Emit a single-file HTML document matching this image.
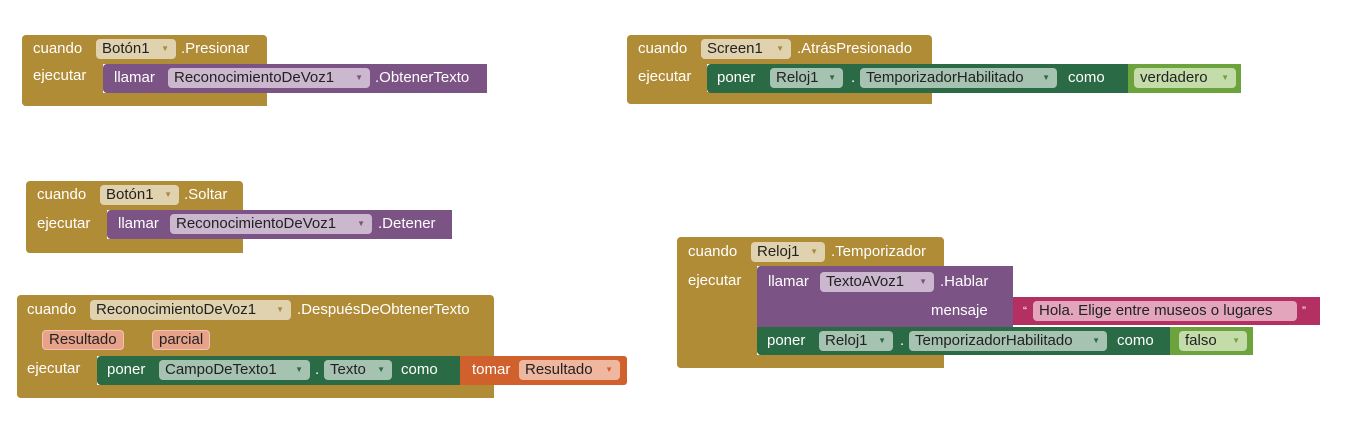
<!DOCTYPE html>
<html><head><meta charset="utf-8"><style>
body{margin:0;width:1350px;height:427px;background:#fff;position:relative;overflow:hidden;font-family:"Liberation Sans",sans-serif;font-size:15px}
.b{position:absolute}
.gold{background:#b18c37}
.pur{background:#7b5385}
.grn{background:#2a6a45}
.org{background:#d0612d}
.lime{background:#6da33c}
.pink{background:#b42f62}
.t{position:absolute;color:#fff;height:18px;line-height:18px;white-space:nowrap}
.f{position:absolute;height:20px;margin-top:-1px;line-height:20px;border-radius:4px;color:#222;padding-left:6px;box-sizing:border-box;white-space:nowrap}
.f i{position:absolute;right:7px;top:0;font-style:normal;font-size:8px;color:#888}
.fg{background:#e0d2ae}.fg i{color:#a88a3a}
.fp{background:#cbb8cf}.fp i{color:#7b5385}
.fn{background:#a6c2b1}.fn i{color:#2a6a45}
.fo{background:#efb79f}.fo i{color:#d0612d}
.fl{background:#c4dcaa}.fl i{color:#6da33c}
.fk{background:#e3a5bb}
.prm{position:absolute;height:18px;line-height:18px;background:#e9a28a;border:1px solid #f2c3b2;border-radius:4px;color:#222;padding:0 6px}
</style></head><body>

<!-- Block 1 -->
<div class="b gold" style="left:22px;top:35px;width:245px;height:29px;border-radius:4px 4px 0 0"></div>
<div class="b gold" style="left:22px;top:64px;width:81px;height:42px;border-radius:0 0 0 4px"></div>
<div class="b gold" style="left:22px;top:93px;width:245px;height:13px;border-radius:0 0 0 4px"></div>
<div class="t" style="left:33px;top:40px">cuando</div>
<div class="f fg" style="left:96px;top:40px;width:80px">Botón1<i>▼</i></div>
<div class="t" style="left:181px;top:40px">.Presionar</div>
<div class="t" style="left:33px;top:67px">ejecutar</div>
<div class="b pur" style="left:103px;top:64px;width:384px;height:29px;border-radius:4px 0 0 4px"></div>
<div class="t" style="left:114px;top:69px">llamar</div>
<div class="f fp" style="left:168px;top:69px;width:202px">ReconocimientoDeVoz1<i>▼</i></div>
<div class="t" style="left:375px;top:69px">.ObtenerTexto</div>

<!-- Block 2 -->
<div class="b gold" style="left:26px;top:181px;width:217px;height:29px;border-radius:4px 4px 0 0"></div>
<div class="b gold" style="left:26px;top:210px;width:81px;height:43px;border-radius:0 0 0 4px"></div>
<div class="b gold" style="left:26px;top:239px;width:217px;height:14px;border-radius:0 0 0 4px"></div>
<div class="t" style="left:37px;top:186px">cuando</div>
<div class="f fg" style="left:100px;top:186px;width:79px">Botón1<i>▼</i></div>
<div class="t" style="left:184px;top:186px">.Soltar</div>
<div class="t" style="left:37px;top:215px">ejecutar</div>
<div class="b pur" style="left:107px;top:210px;width:345px;height:29px;border-radius:4px 0 0 4px"></div>
<div class="t" style="left:118px;top:215px">llamar</div>
<div class="f fp" style="left:170px;top:215px;width:202px">ReconocimientoDeVoz1<i>▼</i></div>
<div class="t" style="left:378px;top:215px">.Detener</div>

<!-- Block 3 -->
<div class="b gold" style="left:17px;top:295px;width:477px;height:61px;border-radius:4px 4px 0 0"></div>
<div class="b gold" style="left:17px;top:356px;width:80px;height:42px;border-radius:0 0 0 4px"></div>
<div class="b gold" style="left:17px;top:385px;width:477px;height:13px;border-radius:0 0 0 4px"></div>
<div class="t" style="left:27px;top:301px">cuando</div>
<div class="f fg" style="left:90px;top:301px;width:201px">ReconocimientoDeVoz1<i>▼</i></div>
<div class="t" style="left:297px;top:301px">.DespuésDeObtenerTexto</div>
<div class="prm" style="left:42px;top:330px">Resultado</div>
<div class="prm" style="left:152px;top:330px">parcial</div>
<div class="t" style="left:27px;top:360px">ejecutar</div>
<div class="b grn" style="left:97px;top:356px;width:365px;height:29px;border-radius:4px 0 0 4px"></div>
<div class="t" style="left:107px;top:361px">poner</div>
<div class="f fn" style="left:159px;top:361px;width:151px">CampoDeTexto1<i>▼</i></div>
<div class="t" style="left:315px;top:361px">.</div>
<div class="f fn" style="left:324px;top:361px;width:68px">Texto<i>▼</i></div>
<div class="t" style="left:401px;top:361px">como</div>
<div class="b org" style="left:460px;top:356px;width:167px;height:29px;border-radius:0 3px 3px 0"></div>
<div class="t" style="left:472px;top:361px">tomar</div>
<div class="f fo" style="left:519px;top:361px;width:101px">Resultado<i>▼</i></div>

<!-- Block 4 -->
<div class="b gold" style="left:627px;top:35px;width:305px;height:29px;border-radius:4px 4px 0 0"></div>
<div class="b gold" style="left:627px;top:64px;width:80px;height:40px;border-radius:0 0 0 4px"></div>
<div class="b gold" style="left:627px;top:92px;width:305px;height:12px;border-radius:0 0 0 4px"></div>
<div class="t" style="left:638px;top:40px">cuando</div>
<div class="f fg" style="left:701px;top:40px;width:90px">Screen1<i>▼</i></div>
<div class="t" style="left:797px;top:40px">.AtrásPresionado</div>
<div class="t" style="left:638px;top:68px">ejecutar</div>
<div class="b grn" style="left:707px;top:64px;width:423px;height:29px;border-radius:4px 0 0 4px"></div>
<div class="t" style="left:717px;top:69px">poner</div>
<div class="f fn" style="left:770px;top:69px;width:73px">Reloj1<i>▼</i></div>
<div class="t" style="left:851px;top:69px">.</div>
<div class="f fn" style="left:860px;top:69px;width:197px">TemporizadorHabilitado<i>▼</i></div>
<div class="t" style="left:1068px;top:69px">como</div>
<div class="b lime" style="left:1128px;top:64px;width:113px;height:29px"></div>
<div class="f fl" style="left:1134px;top:69px;width:102px">verdadero<i>▼</i></div>

<!-- Block 5 -->
<div class="b gold" style="left:677px;top:237px;width:267px;height:29px;border-radius:4px 4px 0 0"></div>
<div class="b gold" style="left:677px;top:266px;width:80px;height:102px;border-radius:0 0 0 4px"></div>
<div class="b gold" style="left:677px;top:355px;width:267px;height:13px;border-radius:0 0 0 4px"></div>
<div class="t" style="left:688px;top:243px">cuando</div>
<div class="f fg" style="left:751px;top:243px;width:74px">Reloj1<i>▼</i></div>
<div class="t" style="left:831px;top:243px">.Temporizador</div>
<div class="t" style="left:688px;top:272px">ejecutar</div>
<div class="b pur" style="left:757px;top:266px;width:256px;height:61px;border-radius:4px 0 0 0"></div>
<div class="t" style="left:768px;top:273px">llamar</div>
<div class="f fp" style="left:820px;top:273px;width:114px">TextoAVoz1<i>▼</i></div>
<div class="t" style="left:940px;top:273px">.Hablar</div>
<div class="t" style="left:931px;top:302px">mensaje</div>
<div class="b pink" style="left:1013px;top:297px;width:307px;height:28px"></div>
<div class="t" style="left:1023px;top:302px;font-size:12px">“</div>
<div class="f fk" style="left:1033px;top:302px;width:264px">Hola. Elige entre museos o lugares</div>
<div class="t" style="left:1302px;top:302px;font-size:12px">”</div>
<div class="b grn" style="left:757px;top:327px;width:415px;height:28px;border-radius:0 0 0 4px"></div>
<div class="t" style="left:767px;top:332px">poner</div>
<div class="f fn" style="left:819px;top:332px;width:74px">Reloj1<i>▼</i></div>
<div class="t" style="left:900px;top:332px">.</div>
<div class="f fn" style="left:909px;top:332px;width:198px">TemporizadorHabilitado<i>▼</i></div>
<div class="t" style="left:1117px;top:332px">como</div>
<div class="b lime" style="left:1170px;top:327px;width:83px;height:28px"></div>
<div class="f fl" style="left:1179px;top:332px;width:68px">falso<i>▼</i></div>

</body></html>
